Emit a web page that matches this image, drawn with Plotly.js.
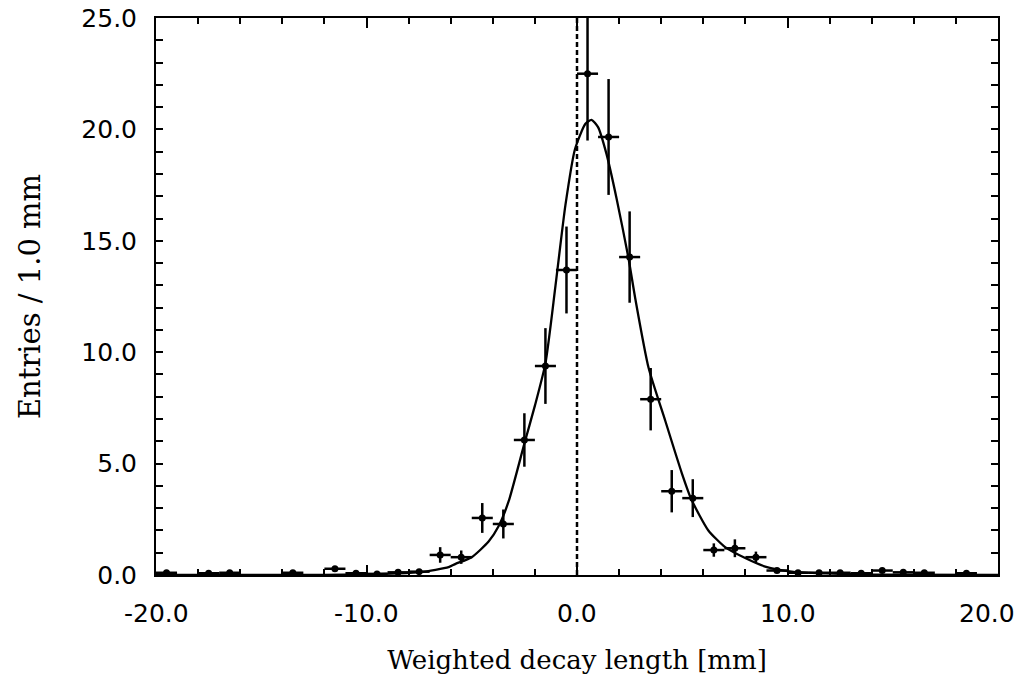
<!DOCTYPE html>
<html>
<head>
<meta charset="utf-8">
<script src="https://cdn.plot.ly/plotly-3.0.1.min.js"></script>
<style>html,body{margin:0;padding:0;background:#fff;}#chart{width:1019px;height:679px;}</style>
</head>
<body>
<div id="chart"></div>
<script>
// Bin centres [mm] and entries per 1.0 mm
const binCenters = [-19.5, -17.5, -16.5, -13.5, -11.5, -10.5, -9.5, -8.5, -7.5, -6.5, -5.5, -4.5, -3.5, -2.5, -1.5, -0.5, 0.5, 1.5, 2.5, 3.5, 4.5, 5.5, 6.5, 7.5, 8.5, 9.5, 10.5, 11.5, 12.5, 13.5, 14.5, 15.5, 16.5, 18.5];
const entries    = [0.10, 0.08, 0.10, 0.10, 0.28, 0.08, 0.05, 0.12, 0.15, 0.90, 0.80, 2.56, 2.29, 6.06, 9.38, 13.69, 22.50, 19.66, 14.27, 7.89, 3.76, 3.45, 1.12, 1.20, 0.80, 0.20, 0.10, 0.10, 0.10, 0.08, 0.20, 0.12, 0.10, 0.08];
const entryErrors = [0.05, 0.05, 0.05, 0.05, 0.12, 0.05, 0.04, 0.06, 0.06, 0.35, 0.30, 0.67, 0.65, 1.20, 1.70, 1.95, 3.00, 2.60, 2.05, 1.40, 0.95, 0.85, 0.30, 0.40, 0.25, 0.10, 0.05, 0.05, 0.05, 0.05, 0.08, 0.06, 0.05, 0.04];
const binHalfWidth = binCenters.map(() => 0.5);

// Fitted curve, points
const fitX = [-20, -12, -10, -8.5, -7.4, -6.1, -5.77, -5.0, -4.2, -3.72, -3.25, -2.5, -2.0, -1.5, -1.02, -0.55, -0.1, 0.4, 0.69, 1.0, 1.4, 1.88, 2.44, 2.77, 3.4, 4.2, 4.97, 5.43, 6.24, 7.04, 7.99, 8.94, 10.2, 11.8, 14, 20];
const fitY = [0.0, 0.01, 0.03, 0.07, 0.13, 0.35, 0.5, 0.8, 1.5, 2.2, 3.3, 5.9, 7.6, 9.5, 13.0, 16.6, 19.1, 20.25, 20.43, 20.1, 18.9, 16.9, 14.25, 12.4, 9.3, 6.9, 4.6, 3.4, 2.0, 1.25, 0.76, 0.38, 0.15, 0.07, 0.02, 0.0];

// Reference line at zero
const zeroLineX = [0, 0];
const zeroLineY = [0, 25];

// Tick labels
const xTickVals = [-20, -10, 0, 10, 20];
const xTickText = ['-20.0', '-10.0', '0.0', '10.0', '20.0'];
const yTickVals = [0, 5, 10, 15, 20, 25];
const yTickText = ['0.0', '5.0', '10.0', '15.0', '20.0', '25.0'];

const traces = [
  {x: zeroLineX, y: zeroLineY, mode: 'lines', line: {color: '#000', width: 2.5, dash: '5px,3px'}, hoverinfo: 'skip', showlegend: false},
  {x: fitX, y: fitY, mode: 'lines', line: {color: '#000', width: 2.3, shape: 'spline', smoothing: 0.6}, showlegend: false},
  {x: binCenters, y: entries, mode: 'markers', marker: {color: '#000', size: 7},
   error_y: {type: 'data', array: entryErrors, color: '#000', thickness: 2.5, width: 0},
   error_x: {type: 'data', array: binHalfWidth, color: '#000', thickness: 2.5, width: 0},
   showlegend: false, cliponaxis: true}
];

const tickFont = {family: 'DejaVu Sans, sans-serif', size: 25, color: '#000'};

// x tick labels as text annotations on the axis values (last one kept inside the page)
const xLabelAnnotations = xTickVals.map((v, i) => ({
  x: v, xref: 'x', y: 0, yref: 'paper', yanchor: 'top', yshift: -22,
  xanchor: 'center', xshift: (i === xTickVals.length - 1) ? -11 : 0,
  text: xTickText[i], showarrow: false, font: tickFont
}));

const layout = {
  width: 1019, height: 679,
  margin: {l: 156, r: 21, t: 18, b: 104},
  paper_bgcolor: '#fff', plot_bgcolor: '#fff',
  xaxis: {
    range: [-20, 20], tickvals: xTickVals, showticklabels: false,
    ticks: 'inside', ticklen: 10, tickwidth: 2, tickcolor: '#000',
    minor: {dtick: 2, tick0: 0, ticks: 'inside', ticklen: 6, tickwidth: 2, tickcolor: '#000'},
    showline: true, linecolor: '#000', linewidth: 2, mirror: 'ticks',
    showgrid: false, zeroline: false,
    title: {text: 'Weighted decay length [mm]', font: {family: 'DejaVu Serif, serif', size: 26, color: '#000'}, standoff: 75}
  },
  yaxis: {
    range: [0, 25], tickvals: yTickVals, ticktext: yTickText,
    ticks: 'inside', ticklen: 7, tickwidth: 2, tickcolor: '#000',
    minor: {dtick: 1, tick0: 0, ticks: 'inside', ticklen: 7, tickwidth: 2, tickcolor: '#000'},
    showline: true, linecolor: '#000', linewidth: 2, mirror: 'ticks',
    showgrid: false, zeroline: false, tickfont: tickFont, ticklabelstandoff: 12,
    title: {text: 'Entries / 1.0 mm', font: {family: 'DejaVu Serif, serif', size: 29, color: '#000'}, standoff: 32}
  },
  annotations: xLabelAnnotations
};

Plotly.newPlot('chart', traces, layout, {displayModeBar: false, staticPlot: true});
</script>
</body>
</html>
